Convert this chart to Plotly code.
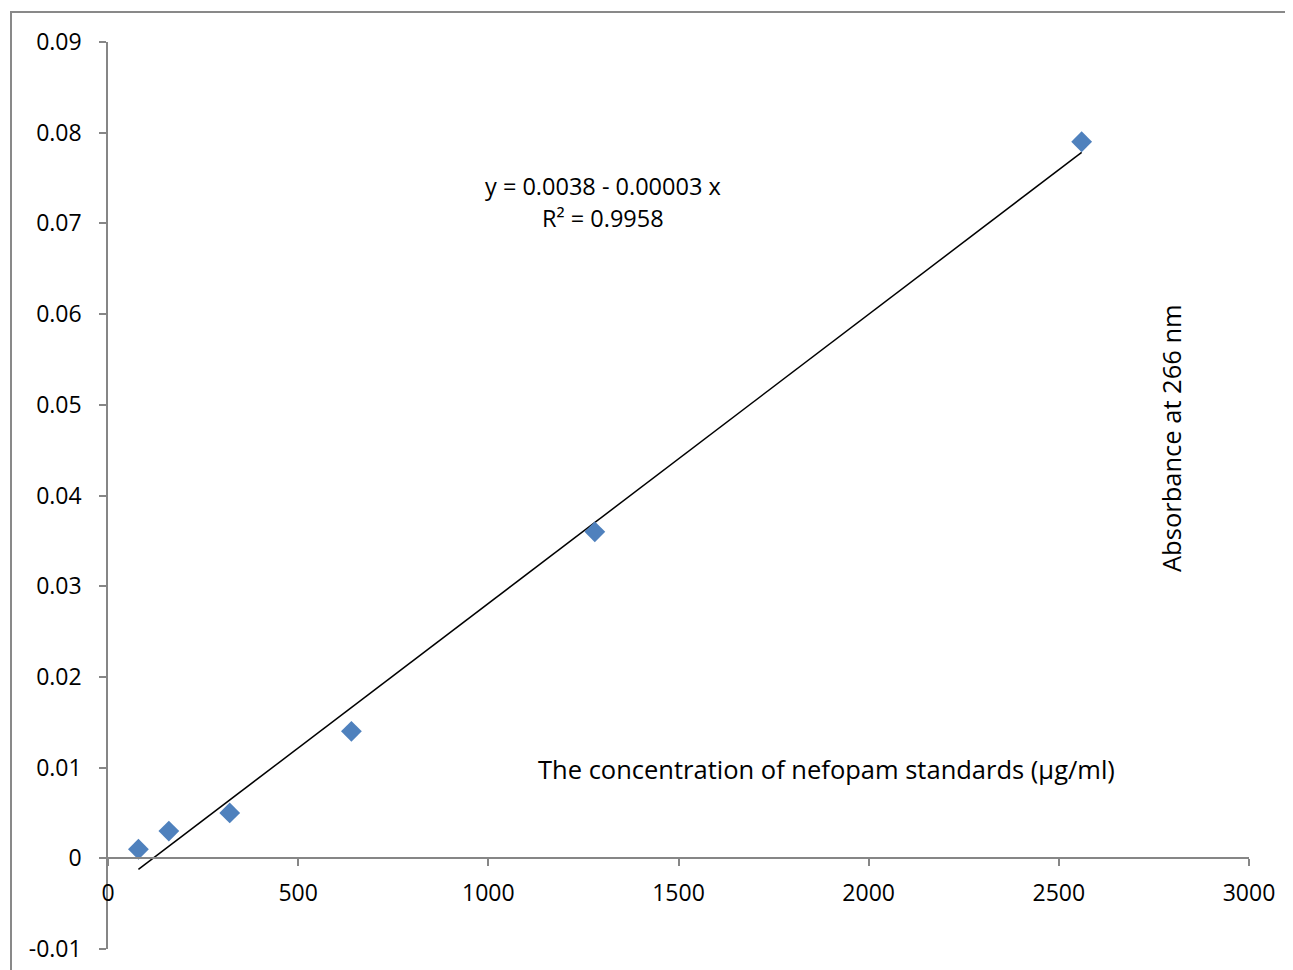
import numpy as np
import plotly.graph_objects as go

# Data
concentration = [80, 160, 320, 640, 1280, 2560]
absorbance = [0.001, 0.003, 0.005, 0.014, 0.036, 0.079]
x_ticks = [0, 500, 1000, 1500, 2000, 2500, 3000]
y_ticks = [-0.01, 0, 0.01, 0.02, 0.03, 0.04, 0.05, 0.06, 0.07, 0.08, 0.09]
y_tick_labels = ["-0.01", "0", "0.01", "0.02", "0.03", "0.04", "0.05", "0.06", "0.07", "0.08", "0.09"]
equation_text = "y = 0.0038 - 0.00003 x"
r2_text = "R² = 0.9958"
x_title = "The concentration of nefopam standards (µg/ml)"
y_title = "Absorbance at 266 nm"

slope, intercept = np.polyfit(concentration, absorbance, 1)
fit_x = [min(concentration), max(concentration)]
fit_y = [intercept + slope * v for v in fit_x]

FONT = "Open Sans"
AX = "#868686"

# plot area in page pixels (reference)
PL, PR, PT, PB = 107, 1248, 41, 948
OFF = 7  # page body offset
W = PR - PL
H = PB - PT


def px(xp):
    return (xp - PL) / W


def py(yp):
    return (PB - yp) / H


fig = go.Figure()
fig.add_trace(go.Scatter(x=fit_x, y=fit_y, mode="lines",
                         line=dict(color="black", width=1.5), showlegend=False))
fig.add_trace(go.Scatter(x=concentration, y=absorbance, mode="markers",
                         marker=dict(symbol="diamond", size=16, color="#4F81BD",
                                     line=dict(width=0)), showlegend=False))

fig.update_layout(
    width=1293, height=970,
    margin=dict(l=PL - OFF, r=1293 - PR + OFF, t=PT - OFF, b=970 - PB + OFF),
    paper_bgcolor="white", plot_bgcolor="white",
    font=dict(family=FONT, size=23, color="black"),
    xaxis=dict(range=[0, 3000], tickvals=x_ticks, showgrid=False, zeroline=False,
               showline=True, linecolor=AX, linewidth=1.5,
               ticks="outside", ticklen=7, tickcolor=AX, tickwidth=1.5,
               anchor="free", position=0.1, ticklabelstandoff=7),
    yaxis=dict(range=[-0.01, 0.09], tickvals=y_ticks, ticktext=y_tick_labels,
               showgrid=False, zeroline=False,
               showline=True, linecolor=AX, linewidth=1.5,
               ticks="outside", ticklen=7, tickcolor=AX, tickwidth=1.5,
               ticklabelstandoff=13),
    shapes=[dict(type="rect", xref="paper", yref="paper",
                 x0=px(10), x1=px(1400), y0=py(1100), y1=py(11),
                 line=dict(color="#898989", width=2), layer="below")],
    annotations=[
        dict(x=px(602), y=py(185), xref="paper", yref="paper",
             text=equation_text, showarrow=False, font=dict(size=23.5),
             xanchor="center", yanchor="middle"),
        dict(x=px(602), y=py(217), xref="paper", yref="paper",
             text=r2_text, showarrow=False, font=dict(size=23.5),
             xanchor="center", yanchor="middle"),
        dict(x=px(825), y=py(768), xref="paper", yref="paper",
             text=x_title, showarrow=False, font=dict(size=25.5),
             xanchor="center", yanchor="middle"),
        dict(x=px(1170), y=py(437), xref="paper", yref="paper",
             text=y_title, showarrow=False, font=dict(size=25.5), textangle=-90,
             xanchor="center", yanchor="middle"),
    ],
)

fig.write_html("out.html")
